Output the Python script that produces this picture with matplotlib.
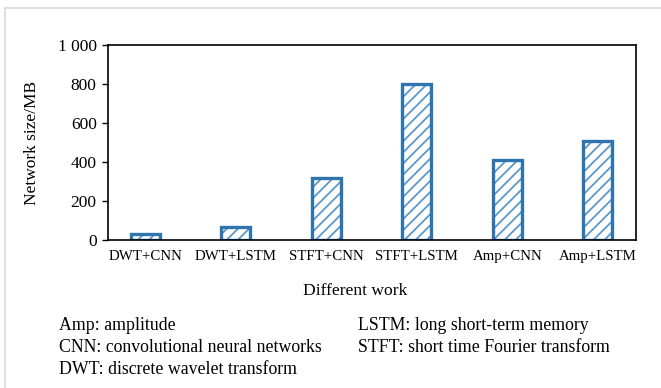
import matplotlib
matplotlib.use("Agg")
import matplotlib.pyplot as plt
from matplotlib.lines import Line2D

plt.rcParams['font.family'] = ['Liberation Serif', 'DejaVu Serif']
plt.rcParams['hatch.linewidth'] = 1.3

works = ['DWT+CNN', 'DWT+LSTM', 'STFT+CNN', 'STFT+LSTM', 'Amp+CNN', 'Amp+LSTM']
size_mb = [30, 65, 320, 800, 410, 510]
yticks = [0, 200, 400, 600, 800, 1000]
ytick_labels = ['0', '200', '400', '600', '800', '1 000']
notes_left = ['Amp: amplitude', 'CNN: convolutional neural networks',
              'DWT: discrete wavelet transform']
notes_right = ['LSTM: long short-term memory', 'STFT: short time Fourier transform']

blue = '#2e75b0'
hatch_blue = '#5b98c9'

fig = plt.figure(figsize=(6.61, 3.88), dpi=100)
ax = fig.add_axes([0.163, 0.381, 0.799, 0.503])

x = range(len(works))
ax.bar(x, size_mb, width=0.32, color='white', edgecolor=hatch_blue,
       hatch='///', linewidth=0, zorder=2)
ax.bar(x, size_mb, width=0.32, color='none', edgecolor=blue,
       linewidth=2.4, zorder=3)

ax.set_xlim(-0.414, 5.42)
ax.set_ylim(0, 1000)
ax.set_xticks(list(x))
ax.set_xticklabels(works, fontsize=10.7)
ax.set_yticks(yticks)
ax.set_yticklabels(ytick_labels, fontsize=12.5)
ax.tick_params(axis='x', direction='in', length=4, width=1, pad=7)
ax.tick_params(axis='y', direction='out', length=4, width=1, pad=4)
for s in ax.spines.values():
    s.set_linewidth(1.2)
    s.set_zorder(4)
ax.set_ylabel('Network size/MB', fontsize=12.5, labelpad=13)

fig.text(355 / 661, 1 - 291 / 388, 'Different work', fontsize=12.6,
         ha='center', va='center')

for i, t in enumerate(notes_left):
    fig.text(59 / 661, 1 - (326 + 21.5 * i) / 388, t, fontsize=12.8, va='center')
for i, t in enumerate(notes_right):
    fig.text(358 / 661, 1 - (326 + 21.5 * i) / 388, t, fontsize=12.8, va='center')

# light border along the top and left edges
fig.add_artist(Line2D([5 / 661, 1], [1 - 8 / 388] * 2, color='#dcdcdc',
                      linewidth=1.3, transform=fig.transFigure))
fig.add_artist(Line2D([5 / 661] * 2, [0, 1 - 8 / 388], color='#dcdcdc',
                      linewidth=1.3, transform=fig.transFigure))

fig.savefig('out.png', dpi=100)
